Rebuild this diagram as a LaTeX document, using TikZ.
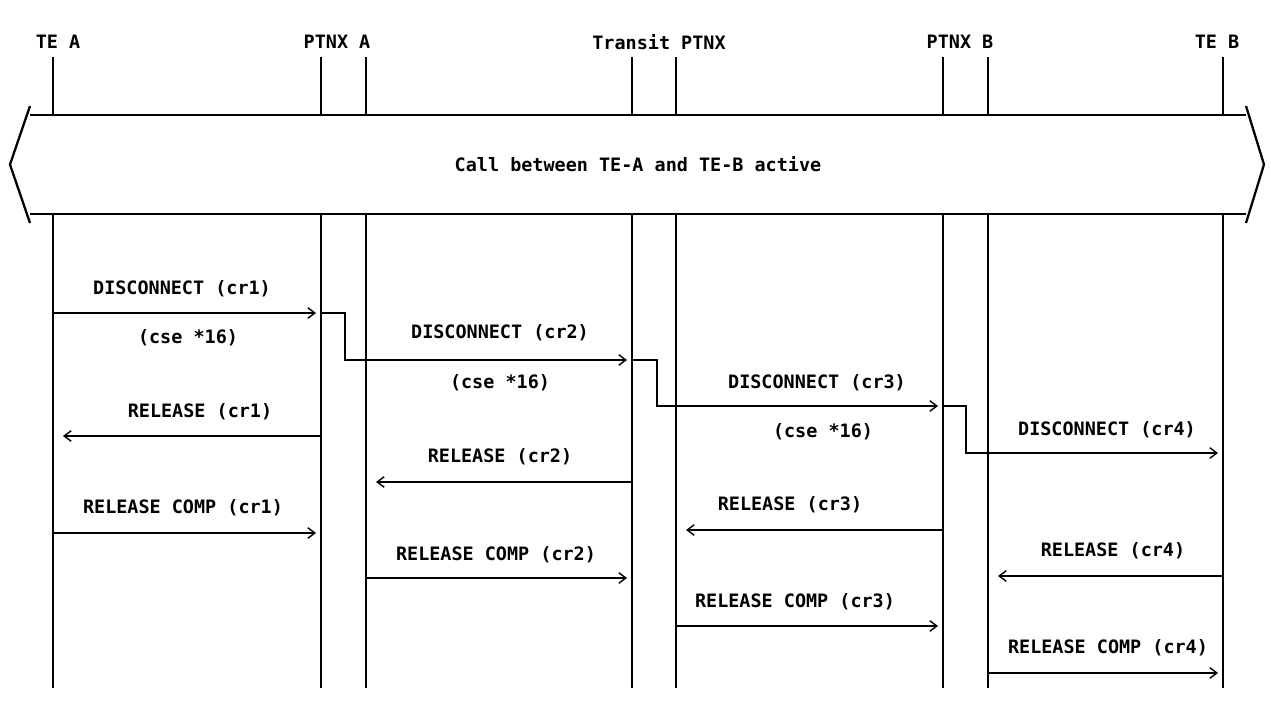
\documentclass[tikz,border=0pt]{standalone}
\usepackage{fontspec}
\setmonofont{DejaVu Sans Mono}
\usetikzlibrary{arrows.meta, calc}

\begin{document}
\begin{tikzpicture}[x=0.02cm, y=-0.02cm,
    hdr/.style={font=\ttfamily\bfseries\fontsize{10.5}{12}\selectfont, inner sep=1pt},
    lbl/.style={font=\ttfamily\bfseries\fontsize{10.5}{12}\selectfont, inner sep=1pt},
    life/.style={line width=0.8pt},
    fwd/.style={line width=0.8pt, -{Straight Barb[length=4pt,width=6pt]}, shorten >=0.1cm},
    bwd/.style={line width=0.8pt, -{Straight Barb[length=4pt,width=6pt]}, shorten >=0.2cm},
    callbox/.style={line width=0.8pt, fill=white}
  ]
    \useasboundingbox (0,0) rectangle (1271,702);

    % entities
    \node[hdr] (hTEA) at (58,42) {TE A};
    \node[hdr] (hPXA) at (337,42) {PTNX A};
    \node[hdr] (hTRN) at (659,42) {Transit PTNX};
    \node[hdr] (hPXB) at (960,42) {PTNX B};
    \node[hdr] (hTEB) at (1217,42) {TE B};

    \coordinate (teA) at (53,57);
    \coordinate (pxA1) at (321,57);
    \coordinate (pxA2) at (366,57);
    \coordinate (trn1) at (632,57);
    \coordinate (trn2) at (676,57);
    \coordinate (pxB1) at (943,57);
    \coordinate (pxB2) at (988,57);
    \coordinate (teB) at (1223,57);

    \draw[life] (teA) -- (teA |- 0,688);
    \draw[life] (pxA1) -- (pxA1 |- 0,688);
    \draw[life] (pxA2) -- (pxA2 |- 0,688);
    \draw[life] (trn1) -- (trn1 |- 0,688);
    \draw[life] (trn2) -- (trn2 |- 0,688);
    \draw[life] (pxB1) -- (pxB1 |- 0,688);
    \draw[life] (pxB2) -- (pxB2 |- 0,688);
    \draw[life] (teB) -- (teB |- 0,688);

    % active call
    \fill[white] (30,115) -- (1246,115) -- (1246,214) -- (30,214) -- cycle;
    \draw[callbox] (30,115) -- (1246,115);
    \draw[callbox] (30,214) -- (1246,214);
    \draw[line width=1.3pt] (30,106) -- (10,164.5) -- (30,223);
    \draw[line width=1.3pt] (1246,106) -- (1264,164.5) -- (1246,223);
    \node[lbl] (call) at (638,164) {Call between TE-A and TE-B active};

    % clearing towards TE B
    \node[lbl] (d1) at (182,289) {DISCONNECT (cr1)};
    \draw[fwd] (teA |- 0,313) -- (pxA1 |- 0,313);
    \node[lbl] (c1) at (188,338) {(cse *16)};
    \draw[fwd] (pxA1 |- 0,313) -| (345,360) -- (trn1 |- 0,360);

    \node[lbl] (d2) at (500,333) {DISCONNECT (cr2)};
    \node[lbl] (c2) at (500,383) {(cse *16)};
    \draw[fwd] (trn1 |- 0,360) -| (657,406) -- (pxB1 |- 0,406);

    \node[lbl] (d3) at (817,383) {DISCONNECT (cr3)};
    \node[lbl] (c3) at (823,432) {(cse *16)};
    \draw[fwd] (pxB1 |- 0,406) -| (966,453) -- (teB |- 0,453);

    \node[lbl] (d4) at (1107,430) {DISCONNECT (cr4)};

    % release
    \node[lbl] (r1) at (200,412) {RELEASE (cr1)};
    \draw[bwd] (pxA1 |- 0,436) -- (teA |- 0,436);
    \node[lbl] (r2) at (500,457) {RELEASE (cr2)};
    \draw[bwd] (trn1 |- 0,482) -- (pxA2 |- 0,482);
    \node[lbl] (r3) at (790,505) {RELEASE (cr3)};
    \draw[bwd] (pxB1 |- 0,530) -- (trn2 |- 0,530);
    \node[lbl] (r4) at (1113,551) {RELEASE (cr4)};
    \draw[bwd] (teB |- 0,576) -- (pxB2 |- 0,576);

    % release complete
    \node[lbl] (rc1) at (183,508) {RELEASE COMP (cr1)};
    \draw[fwd] (teA |- 0,533) -- (pxA1 |- 0,533);
    \node[lbl] (rc2) at (496,555) {RELEASE COMP (cr2)};
    \draw[fwd] (pxA2 |- 0,578) -- (trn1 |- 0,578);
    \node[lbl] (rc3) at (795,602) {RELEASE COMP (cr3)};
    \draw[fwd] (trn2 |- 0,626) -- (pxB1 |- 0,626);
    \node[lbl] (rc4) at (1108,648) {RELEASE COMP (cr4)};
    \draw[fwd] (pxB2 |- 0,673) -- (teB |- 0,673);
\end{tikzpicture}
\end{document}
